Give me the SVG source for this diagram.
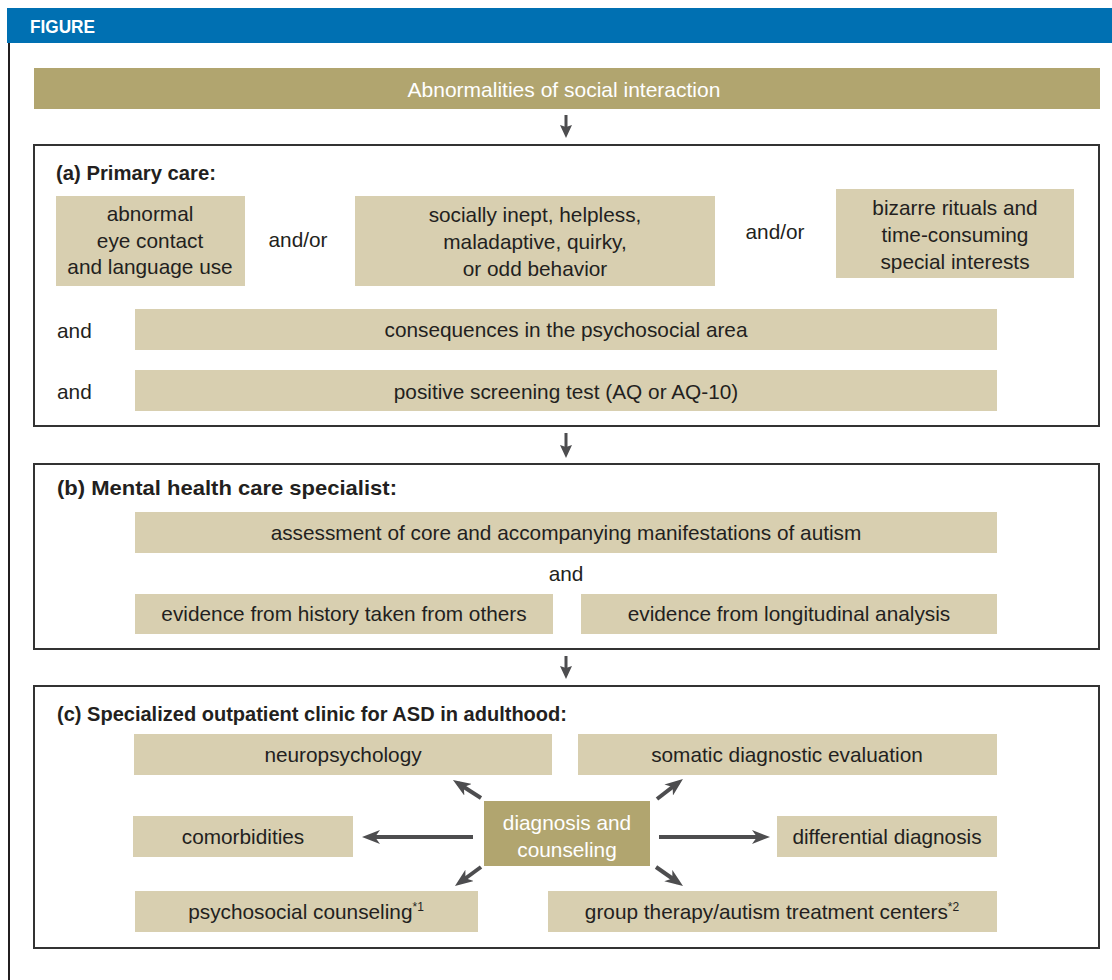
<svg xmlns="http://www.w3.org/2000/svg" width="1112" height="980" viewBox="0 0 1112 980">
<style>
text{font-family:"Liberation Sans",Arial,sans-serif;font-size:20.8px;fill:#231f20}
.c{text-anchor:middle}
.w{fill:#ffffff}
.t{font-weight:bold;font-size:21px}
.lt{fill:#d8cfb0}
.dk{fill:#b1a56f}
.frame{fill:#ffffff;stroke:#333333;stroke-width:2}
.conn{stroke:#4d4d4f;stroke-width:4;fill:none;marker-end:url(#ah)}
.vconn{stroke:#4d4d4f;stroke-width:3;fill:none;marker-end:url(#vh)}
.sup{font-size:12px}
</style>
<defs>
<marker id="ah" markerUnits="userSpaceOnUse" markerWidth="18" markerHeight="14" refX="12" refY="7" orient="auto">
<path d="M0,0 L18,7 L0,14 L5,7 z" fill="#4d4d4f"/>
</marker>
<marker id="vh" markerUnits="userSpaceOnUse" markerWidth="14" markerHeight="12" refX="8" refY="6" orient="auto">
<path d="M0,0 L13,6 L0,12 L2,6 z" fill="#4d4d4f"/>
</marker>
</defs>
<rect x="0" y="0" width="1112" height="980" fill="#ffffff"/>
<g id="header">
<rect x="7" y="8" width="1105" height="35" fill="#0070b2"/>
<text x="30" y="33" class="w" style="font-weight:bold;font-size:19px" textLength="65" lengthAdjust="spacingAndGlyphs">FIGURE</text>
<line x1="9" y1="43" x2="9" y2="980" stroke="#231f20" stroke-width="2"/>
</g>
<g id="top">
<rect x="34" y="68" width="1066" height="41" class="dk"/>
<text x="564" y="97" class="c w" style="font-size:21px">Abnormalities of social interaction</text>
</g>
<g id="sectionA">
<rect x="34" y="145" width="1065" height="281" class="frame"/>
<text x="56" y="180" class="t" textLength="160" lengthAdjust="spacingAndGlyphs">(a) Primary care:</text>
<g id="a1"><rect x="56" y="196" width="189" height="90" class="lt"/>
<text x="150" y="221" class="c">abnormal</text><text x="150" y="248" class="c">eye contact</text><text x="150" y="274" class="c">and language use</text></g>
<text x="298" y="247" class="c">and/or</text>
<g id="a2"><rect x="355" y="196" width="360" height="90" class="lt"/>
<text x="535" y="222" class="c">socially inept, helpless,</text><text x="535" y="249" class="c">maladaptive, quirky,</text><text x="535" y="276" class="c">or odd behavior</text></g>
<text x="775" y="239" class="c">and/or</text>
<g id="a3"><rect x="836" y="189" width="238" height="89" class="lt"/>
<text x="955" y="215" class="c">bizarre rituals and</text><text x="955" y="242" class="c">time-consuming</text><text x="955" y="269" class="c">special interests</text></g>
<text x="57" y="338">and</text>
<g id="a4"><rect x="135" y="309" width="862" height="41" class="lt"/>
<text x="566" y="337" class="c">consequences in the psychosocial area</text></g>
<text x="57" y="399">and</text>
<g id="a5"><rect x="135" y="370" width="862" height="41" class="lt"/>
<text x="566" y="399" class="c">positive screening test (AQ or AQ-10)</text></g>
</g>
<g id="sectionB">
<rect x="34" y="464" width="1065" height="185" class="frame"/>
<text x="57" y="495" class="t" textLength="340" lengthAdjust="spacingAndGlyphs">(b) Mental health care specialist:</text>
<g id="b1"><rect x="135" y="512" width="862" height="41" class="lt"/>
<text x="566" y="540" class="c">assessment of core and accompanying manifestations of autism</text></g>
<text x="566" y="581" class="c">and</text>
<g id="b2"><rect x="135" y="594" width="418" height="40" class="lt"/>
<text x="344" y="621" class="c">evidence from history taken from others</text></g>
<g id="b3"><rect x="581" y="594" width="416" height="40" class="lt"/>
<text x="789" y="621" class="c">evidence from longitudinal analysis</text></g>
</g>
<g id="sectionC">
<rect x="34" y="686" width="1065" height="262" class="frame"/>
<text x="57" y="721" class="t" textLength="510" lengthAdjust="spacingAndGlyphs">(c) Specialized outpatient clinic for ASD in adulthood:</text>
<g id="c1"><rect x="134" y="734" width="418" height="41" class="lt"/>
<text x="343" y="762" class="c">neuropsychology</text></g>
<g id="c2"><rect x="578" y="734" width="419" height="41" class="lt"/>
<text x="787" y="762" class="c">somatic diagnostic evaluation</text></g>
<g id="c3"><rect x="133" y="816" width="220" height="41" class="lt"/>
<text x="243" y="844" class="c">comorbidities</text></g>
<g id="c4"><rect x="484" y="801" width="166" height="65" class="dk"/>
<text x="567" y="830" class="c w">diagnosis and</text><text x="567" y="857" class="c w">counseling</text></g>
<g id="c5"><rect x="777" y="816" width="220" height="41" class="lt"/>
<text x="887" y="844" class="c">differential diagnosis</text></g>
<g id="c6"><rect x="135" y="891" width="343" height="41" class="lt"/>
<text x="306" y="919" class="c">psychosocial counseling<tspan class="sup" dy="-8">*1</tspan></text></g>
<g id="c7"><rect x="548" y="891" width="449" height="41" class="lt"/>
<text x="772" y="919" class="c">group therapy/autism treatment centers<tspan class="sup" dy="-8">*2</tspan></text></g>
</g>
<g id="connectors">
<line x1="566" y1="115" x2="566" y2="133" class="vconn"/>
<line x1="566" y1="433" x2="566" y2="453" class="vconn"/>
<line x1="566" y1="656" x2="566" y2="674" class="vconn"/>
<line x1="481" y1="798" x2="458" y2="783.2" class="conn"/>
<line x1="657" y1="799" x2="678.2" y2="782.7" class="conn"/>
<line x1="473" y1="837" x2="368" y2="837" class="conn"/>
<line x1="659" y1="837" x2="764" y2="837" class="conn"/>
<line x1="481" y1="867" x2="459.8" y2="882.5" class="conn"/>
<line x1="656" y1="867" x2="678.1" y2="882.5" class="conn"/>
</g>
</svg>
